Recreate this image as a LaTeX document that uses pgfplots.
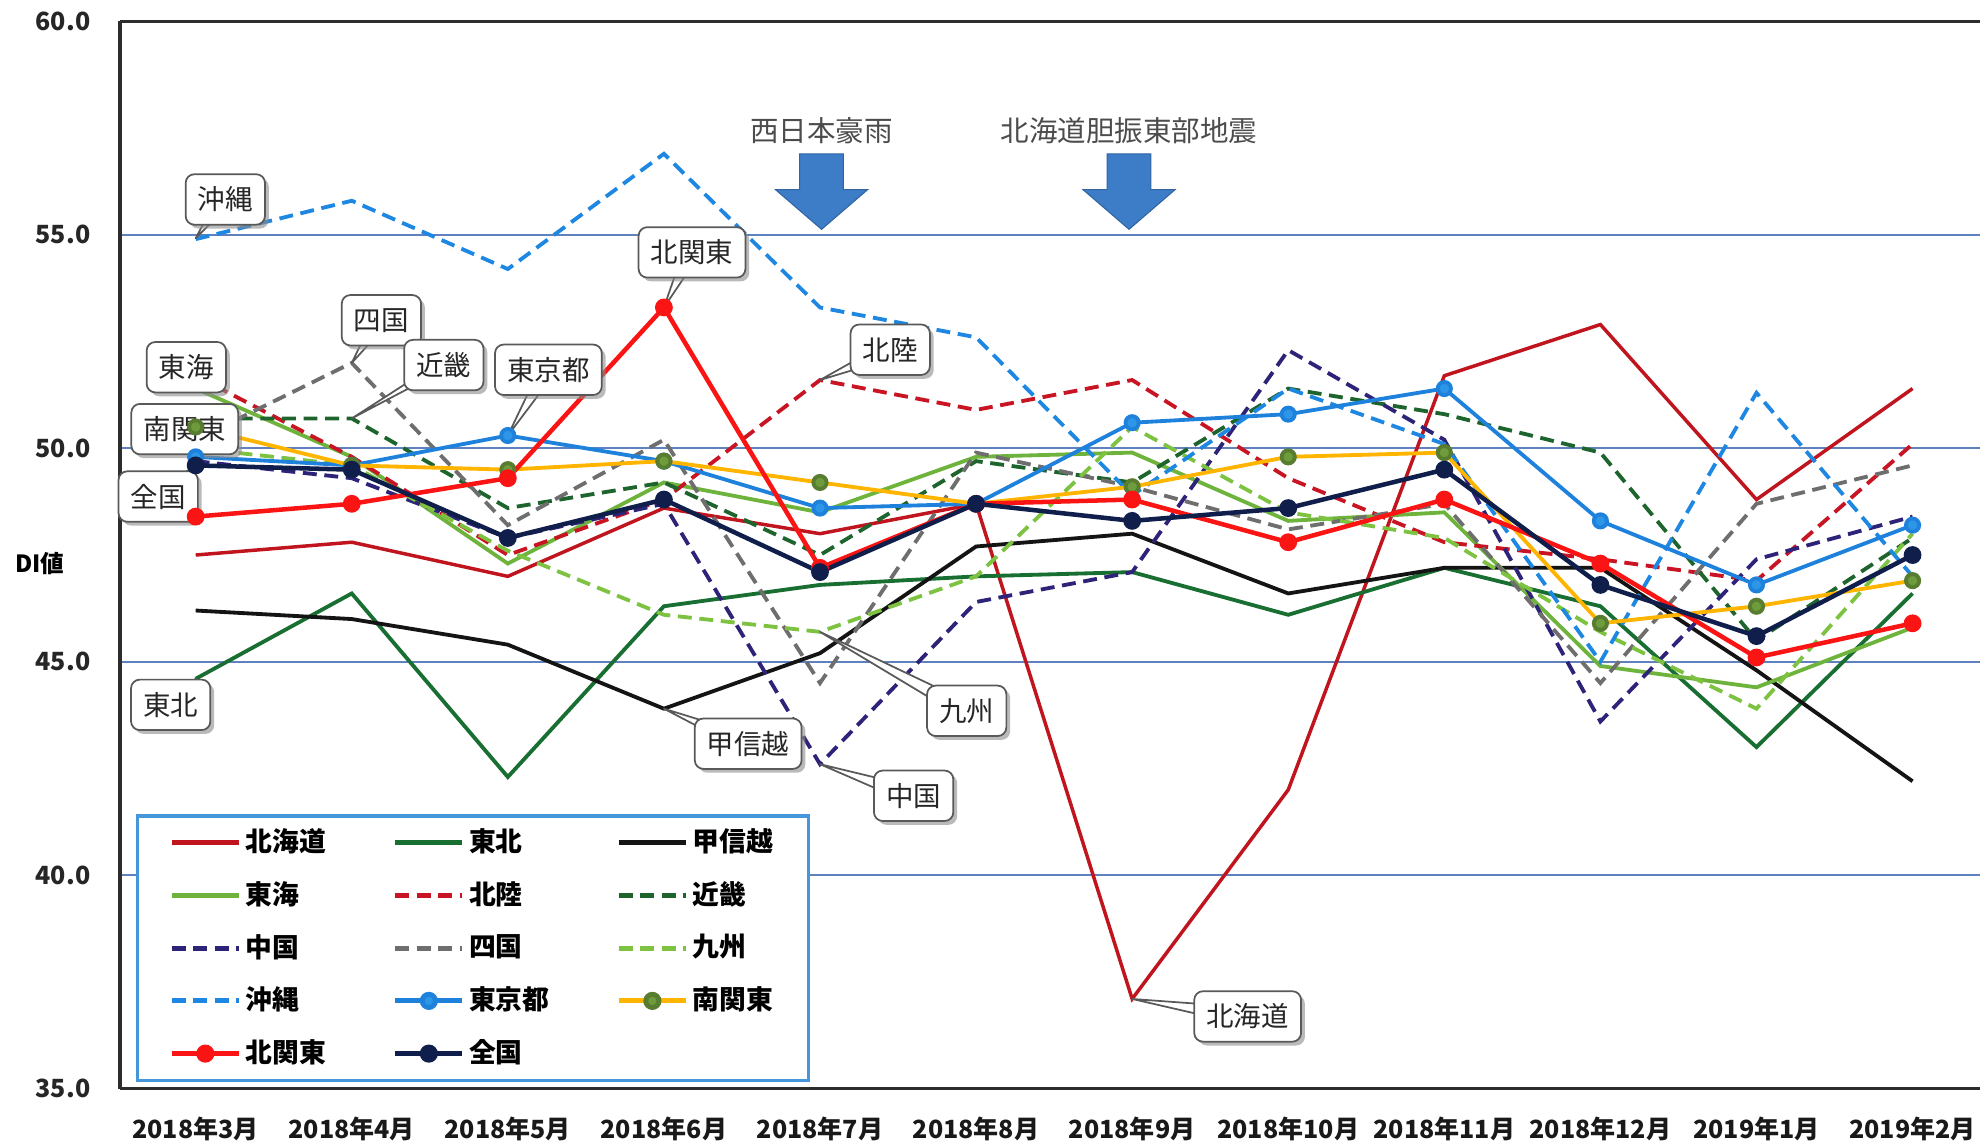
\documentclass[border=0pt]{standalone}
\usepackage{fontspec}
\usepackage{pgfplots}
\pgfplotsset{compat=1.18}
\usepackage{pgfplotstable}
\usetikzlibrary{shadows}
\newfontfamily\jp{Noto Sans CJK JP}

\definecolor{hokc}{RGB}{192,20,30}
\definecolor{tohc}{RGB}{25,110,50}
\definecolor{kosc}{RGB}{20,20,20}
\definecolor{tokc}{RGB}{110,180,60}
\definecolor{hkrc}{RGB}{200,20,35}
\definecolor{kinc}{RGB}{30,100,45}
\definecolor{chuc}{RGB}{45,35,120}
\definecolor{shic}{RGB}{110,110,110}
\definecolor{kyuc}{RGB}{125,195,65}
\definecolor{okic}{RGB}{30,135,225}
\definecolor{tkyc}{RGB}{30,130,220}
\definecolor{tkym}{RGB}{45,150,230}
\definecolor{mktc}{RGB}{255,180,0}
\definecolor{mktm}{RGB}{110,155,60}
\definecolor{kktc}{RGB}{250,20,20}
\definecolor{zenc}{RGB}{15,30,75}
\definecolor{gridc}{RGB}{95,130,190}
\definecolor{legc}{RGB}{70,150,220}
\definecolor{arrc}{RGB}{61,125,200}
\definecolor{axc}{RGB}{45,45,45}

\tikzset{
  callbox/.style={draw=black!65, fill=white, rounded corners=2.5pt, inner xsep=3.5pt, inner ysep=1.5pt,
    minimum height=14.5pt, line width=0.5pt, text=black!85, font=\jp\fontsize{7.9}{9}\selectfont,
    drop shadow={shadow xshift=1.1pt, shadow yshift=-1.1pt, fill=black!45, opacity=0.6}},
  sol/.style={line width=1.1pt},
  dsh/.style={line width=1.1pt, dash pattern=on 4pt off 2.2pt},
}

\pgfplotstableread{
x hok toh kos tok hkr kin chu shi kyu oki tky mkt kkt zen
0  47.5 44.6 46.2 51.4 51.7 50.7 49.7 50.2 50.0 54.9 49.8 50.5 48.4 49.6
1  47.8 46.6 46.0 49.8 49.8 50.7 49.3 52.0 49.6 55.8 49.6 49.6 48.7 49.5
2  47.0 42.3 45.4 47.3 47.5 48.6 47.9 48.2 47.6 54.2 50.3 49.5 49.3 47.9
3  48.6 46.3 43.9 49.2 48.8 49.2 48.7 50.2 46.1 56.9 49.7 49.7 53.3 48.8
4  48.0 46.8 45.2 48.5 51.6 47.5 42.6 44.5 45.7 53.3 48.6 49.2 47.2 47.1
5  48.7 47.0 47.7 49.8 50.9 49.7 46.4 49.9 47.0 52.6 48.7 48.7 48.7 48.7
6  37.1 47.1 48.0 49.9 51.6 49.2 47.1 49.1 50.5 48.9 50.6 49.1 48.8 48.3
7  42.0 46.1 46.6 48.3 49.3 51.4 52.3 48.1 48.5 51.4 50.8 49.8 47.8 48.6
8  51.7 47.2 47.2 48.5 47.8 50.8 50.2 48.7 47.9 50.1 51.4 49.9 48.8 49.5
9  52.9 46.3 47.2 44.9 47.4 49.9 43.6 44.5 45.7 45.0 48.3 45.9 47.3 46.8
10 48.8 43.0 44.8 44.4 46.9 45.5 47.4 48.7 43.9 51.3 46.8 46.3 45.1 45.6
11 51.4 46.6 42.2 45.8 50.1 47.9 48.4 49.6 48.0 47.0 48.2 46.9 45.9 47.5
}\data

\newcommand{\callout}[6]{%
  \draw[draw=black!65, fill=white, line width=0.5pt, line join=round] (axis cs:#3,#4) -- ([#6=-2.6pt]axis cs:#1,#2) -- ([#6=2.6pt]axis cs:#1,#2) -- cycle;
  \node[callbox] at (axis cs:#1,#2) {#5};}
\newcommand{\calloutbox}[3]{\node[callbox] at (axis cs:#1,#2) {#3};}

\begin{document}
\begin{tikzpicture}
\begin{axis}[
  scale only axis, width=18.79cm, height=10.78cm,
  xmin=-0.485, xmax=11.432, ymin=35, ymax=60,
  clip=false,
  axis x line*=box, axis y line*=left,
  axis line style={draw=axc, line width=0.9pt},
  xtick={0,...,11},
  xticklabels={2018年3月,2018年4月,2018年5月,2018年6月,2018年7月,2018年8月,2018年9月,2018年10月,2018年11月,2018年12月,2019年1月,2019年2月},
  ytick={35,40,45,50,55,60},
  major tick length=0pt,
  ymajorgrids, grid style={draw=gridc, line width=0.6pt},
  /pgf/number format/assume math mode=true,
  yticklabel style={/pgf/number format/fixed, /pgf/number format/fixed zerofill, /pgf/number format/precision=1},
  y tick label style={font=\jp\bfseries\fontsize{7.2}{8}\selectfont, text=black!85, xshift=-5pt},
  x tick label style={font=\jp\bfseries\fontsize{7.2}{8}\selectfont, text=black!90, yshift=-4.5pt},
  ylabel={DI値},
  ylabel style={rotate=-90, at={(rel axis cs:-0.043,0.492)}, anchor=center, font=\jp\bfseries\fontsize{6.8}{8}\selectfont},
  legend columns=3,
  legend cell align=left,
  legend image code/.code={\draw[mark repeat=2,mark phase=2] plot coordinates {(0cm,0cm) (0.34cm,0cm) (0.68cm,0cm)};},
  legend image post style={line width=1.4pt},
  legend style={at={(0.0088,0.006)}, anchor=south west, draw=legc, line width=0.9pt, fill=white,
    font=\jp\bfseries\fontsize{7.7}{9}\selectfont, inner xsep=9pt, inner ysep=2.5pt,
    nodes={inner sep=1.2pt}, row sep=4.65pt,
    /tikz/every even column/.append style={column sep=18pt}},
]
\addplot[sol, hokc, line width=1.0pt] table[x=x,y=hok]{\data}; \addlegendentry{北海道}
\addplot[sol, tohc] table[x=x,y=toh]{\data}; \addlegendentry{東北}
\addplot[sol, kosc] table[x=x,y=kos]{\data}; \addlegendentry{甲信越}
\addplot[sol, tokc] table[x=x,y=tok]{\data}; \addlegendentry{東海}
\addplot[dsh, hkrc] table[x=x,y=hkr]{\data}; \addlegendentry{北陸}
\addplot[dsh, kinc] table[x=x,y=kin]{\data}; \addlegendentry{近畿}
\addplot[dsh, chuc] table[x=x,y=chu]{\data}; \addlegendentry{中国}
\addplot[dsh, shic] table[x=x,y=shi]{\data}; \addlegendentry{四国}
\addplot[dsh, kyuc] table[x=x,y=kyu]{\data}; \addlegendentry{九州}
\addplot[dsh, okic] table[x=x,y=oki]{\data}; \addlegendentry{沖縄}
\addplot[sol, tkyc, mark=*, mark size=1.9pt, mark options={fill=tkym, draw=tkyc, solid}] table[x=x,y=tky]{\data}; \addlegendentry{東京都}
\addplot[sol, mktc, mark=*, mark size=1.9pt, mark options={fill=mktm, draw=mktm!80!black, solid}] table[x=x,y=mkt]{\data}; \addlegendentry{南関東}
\addplot[sol, kktc, line width=1.3pt, mark=*, mark size=1.9pt, mark options={fill=kktc, draw=kktc, solid}] table[x=x,y=kkt]{\data}; \addlegendentry{北関東}
\addplot[sol, zenc, line width=1.3pt, mark=*, mark size=1.9pt, mark options={fill=zenc, draw=zenc, solid}] table[x=x,y=zen]{\data}; \addlegendentry{全国}

% event arrows
\fill[arrc, draw=arrc!80!black, line width=0.3pt] (axis cs:3.87,56.9) -- (axis cs:4.15,56.9) -- (axis cs:4.15,56.06) -- (axis cs:4.305,56.06) -- (axis cs:4.01,55.13) -- (axis cs:3.715,56.06) -- (axis cs:3.87,56.06) -- cycle;
\fill[arrc, draw=arrc!80!black, line width=0.3pt] (axis cs:5.84,56.9) -- (axis cs:6.12,56.9) -- (axis cs:6.12,56.06) -- (axis cs:6.275,56.06) -- (axis cs:5.98,55.13) -- (axis cs:5.685,56.06) -- (axis cs:5.84,56.06) -- cycle;
\node[font=\jp\fontsize{8.2}{10}\selectfont, text=black!70] at (axis cs:4.01,57.44) {西日本豪雨};
\node[font=\jp\fontsize{8.2}{10}\selectfont, text=black!70] at (axis cs:5.98,57.44) {北海道胆振東部地震};

% callouts
\callout{0.19}{55.83}{0}{54.92}{沖縄}{xshift}
\callout{3.18}{54.59}{3}{53.3}{北関東}{xshift}
\callout{1.19}{53.0}{1}{52.0}{四国}{xshift}
\callout{1.59}{51.95}{1}{50.7}{近畿}{xshift}
\callout{2.26}{51.84}{2}{50.3}{東京都}{xshift}
\calloutbox{-0.06}{51.9}{東海}
\calloutbox{-0.07}{50.45}{南関東}
\callout{-0.24}{48.87}{0}{49.6}{全国}{xshift}
\callout{-0.16}{43.99}{0}{44.6}{東北}{xshift}
\callout{3.54}{43.08}{3}{43.9}{甲信越}{yshift}
\callout{4.94}{43.85}{4}{45.7}{九州}{yshift}
\callout{4.6}{41.86}{4}{42.6}{中国}{yshift}
\callout{4.45}{52.31}{4}{51.6}{北陸}{yshift}
\callout{6.74}{36.69}{6}{37.1}{北海道}{yshift}

\coordinate (sw) at (rel axis cs:0,0);
\coordinate (ne) at (rel axis cs:1,1);
\end{axis}
\pgfresetboundingbox
\useasboundingbox ([xshift=-1.212cm,yshift=-0.536cm]sw) rectangle ([yshift=0.217cm]ne);
\end{tikzpicture}
\end{document}
